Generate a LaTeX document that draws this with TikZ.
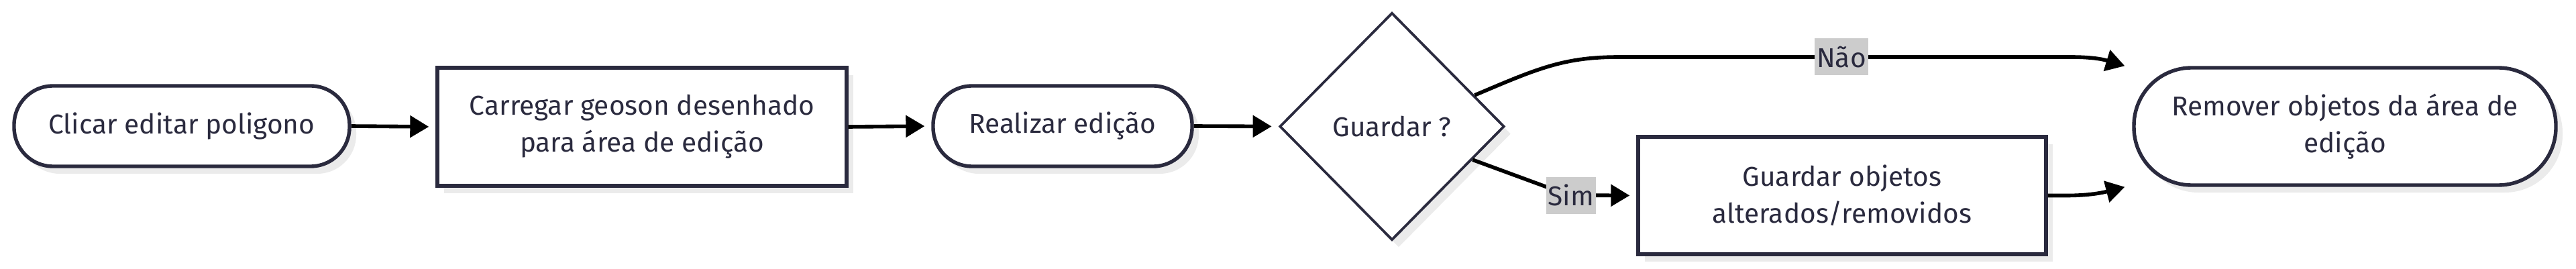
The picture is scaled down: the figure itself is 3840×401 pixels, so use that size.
\documentclass[tikz,border=0pt]{standalone}
\usepackage{fontspec}
\setmainfont{Fira Sans}
\usetikzlibrary{arrows.meta,shapes.geometric,shadows,calc}
\definecolor{ink}{HTML}{2A2A3E}
\definecolor{shadowgray}{HTML}{EBEBEB}
\definecolor{labelgray}{HTML}{CCCCCC}
\begin{document}
\begin{tikzpicture}[x=0.5pt,y=-0.5pt,
  every node/.style={text=ink,font=\fontsize{20.3}{27.5}\selectfont},
  box/.style={draw=ink,line width=2.7pt,fill=white,align=center,inner sep=0pt,
    drop shadow={shadow xshift=5pt,shadow yshift=-5.5pt,fill=shadowgray,opacity=1}},
  stadium/.style={box,rectangle},
  plainbox/.style={box,rectangle},
  decision/.style={box,diamond,line width=1.9pt},
  conn/.style={draw=black,line width=2.8pt,-{Triangle[length=14pt,width=16pt]}},
  lbl/.style={fill=labelgray,inner sep=1.5pt,minimum height=27.5pt}
]
\useasboundingbox (0,0) rectangle (3840,401);
\node[stadium,rounded corners=29pt,minimum width=250pt,minimum height=60pt] (clicar) at (271,188) {Clicar editar poligono};
\node[plainbox,minimum width=305pt,minimum height=88pt] (carregar) at (957,189) {Carregar geoson desenhado\\para área de edição};
\node[stadium,rounded corners=29pt,minimum width=193pt,minimum height=60pt] (realizar) at (1584,188) {Realizar edição};
\node[decision,minimum width=167.5pt,minimum height=169.5pt] (guardar) at (2075,188.5) {Guardar ?};
\node[plainbox,minimum width=304pt,minimum height=87.5pt] (objs) at (2746,291.5) {Guardar objetos\\alterados/removidos};
\node[stadium,rounded corners=43pt,minimum width=314.5pt,minimum height=87.5pt] (remover) at (3495.5,188.5) {Remover objetos da área de\\edição};

\coordinate (nstart) at ($(guardar.east)!0.272!(guardar.north)$);
\coordinate (sstart) at ($(guardar.east)!0.29!(guardar.south)$);
\coordinate (rtop) at ([xshift=-5.5pt]remover.north west);
\coordinate (rbot) at ([xshift=-5.5pt]remover.south west);

\draw[conn,shorten >=5pt] (clicar.east) -- (carregar.west);
\draw[conn,shorten >=5pt] (carregar.east) -- (realizar.west);
\draw[conn,shorten >=5pt] (realizar.east) -- (guardar.west);
\draw[conn] (nstart) .. controls (2290,103) and (2330,85) .. (2413,85) -- (3087,85) .. controls (3125,85) and (3140,90) .. (rtop);
\draw[conn,shorten >=5pt] (sstart) -- (2339,291) -- (objs.west);
\draw[conn] (objs.east) -- (3080,291.5) .. controls (3115,291.5) and (3135,287) .. (rbot);
\node[lbl] (nao) at (2745,85) {Não};
\node[lbl] (sim) at (2342,291) {Sim};
\end{tikzpicture}
\end{document}
